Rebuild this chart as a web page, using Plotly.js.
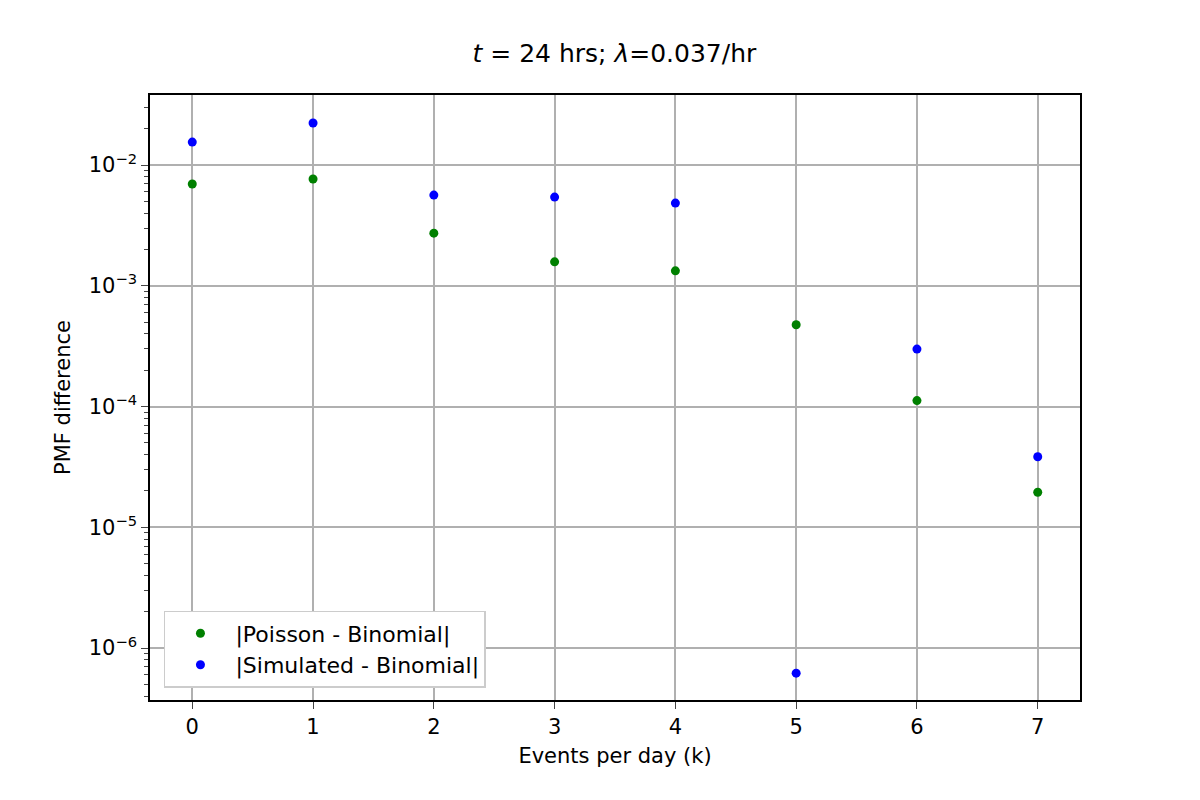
<!DOCTYPE html>
<html>
<head>
<script src="https://cdn.plot.ly/plotly-3.0.1.min.js"></script>
<style>body{margin:0}</style>
</head>
<body>
<div id="myDiv" style="width:1200px;height:800px"></div>
<script>
const k = [0, 1, 2, 3, 4, 5, 6, 7]
const poissonDiff = [0.00697, 0.00766, 0.00273, 0.00158, 0.00133, 0.000476, 0.000112, 1.95e-5]
const simDiff = [0.0155, 0.0223, 0.00564, 0.00543, 0.00484, 6.2e-7, 0.000299, 3.84e-5]

const trace1 = {
  x: k, y: poissonDiff, mode: "markers", type: "scatter",
  name: "|Poisson - Binomial|", marker: {color: "green", size: 9},
}
const trace2 = {
  x: k, y: simDiff, mode: "markers", type: "scatter",
  name: "|Simulated - Binomial|", marker: {color: "blue", size: 9},
}

const layout = {
  width: 1200, height: 800,
  paper_bgcolor: "white", plot_bgcolor: "white",
  font: {family: "DejaVu Sans", size: 21, color: "black"},
  margin: {l: 150, r: 120, t: 95, b: 100},
  title: {text: "<i>t</i> = 24 hrs; <i>λ</i>=0.037/hr", x: 0.512, y: 0.945, font: {size: 25}},
  showlegend: true,
  legend: {x: 0.015, y: 0.02, xanchor: "left", yanchor: "bottom", bordercolor: "#cccccc", borderwidth: 1.5, bgcolor: "white", font: {size: 22}, itemwidth: 60, tracegroupgap: 8},
  xaxis: {
    range: [-0.35, 7.35], tickvals: k, showgrid: true, gridcolor: "#b0b0b0", gridwidth: 1.5,
    showline: true, mirror: true, linecolor: "black", linewidth: 1.5,
    ticks: "outside", ticklen: 7, zeroline: false,
    title: {text: "Events per day (k)", font: {size: 21}, standoff: 10},
  },
  yaxis: {
    type: "log", range: [-6.43, -1.42], showgrid: true, gridcolor: "#b0b0b0", gridwidth: 1.5,
    tickvals: [1e-6, 1e-5, 1e-4, 1e-3, 1e-2],
    ticktext: ["10<sup>−6</sup>", "10<sup>−5</sup>", "10<sup>−4</sup>", "10<sup>−3</sup>", "10<sup>−2</sup>"],
    showline: true, mirror: true, linecolor: "black", linewidth: 1.5,
    ticks: "outside", ticklen: 7, zeroline: false,
    minor: {ticks: "outside", ticklen: 4, showgrid: false, tickvals: [2e-7,3e-7,4e-7,5e-7,6e-7,7e-7,8e-7,9e-7,2e-6,3e-6,4e-6,5e-6,6e-6,7e-6,8e-6,9e-6,2e-5,3e-5,4e-5,5e-5,6e-5,7e-5,8e-5,9e-5,2e-4,3e-4,4e-4,5e-4,6e-4,7e-4,8e-4,9e-4,2e-3,3e-3,4e-3,5e-3,6e-3,7e-3,8e-3,9e-3,2e-2,3e-2]},
    title: {text: "PMF difference", font: {size: 21}, standoff: 12},
  },
}

Plotly.newPlot("myDiv", [trace1, trace2], layout, {displayModeBar: false})
</script>
</body>
</html>
